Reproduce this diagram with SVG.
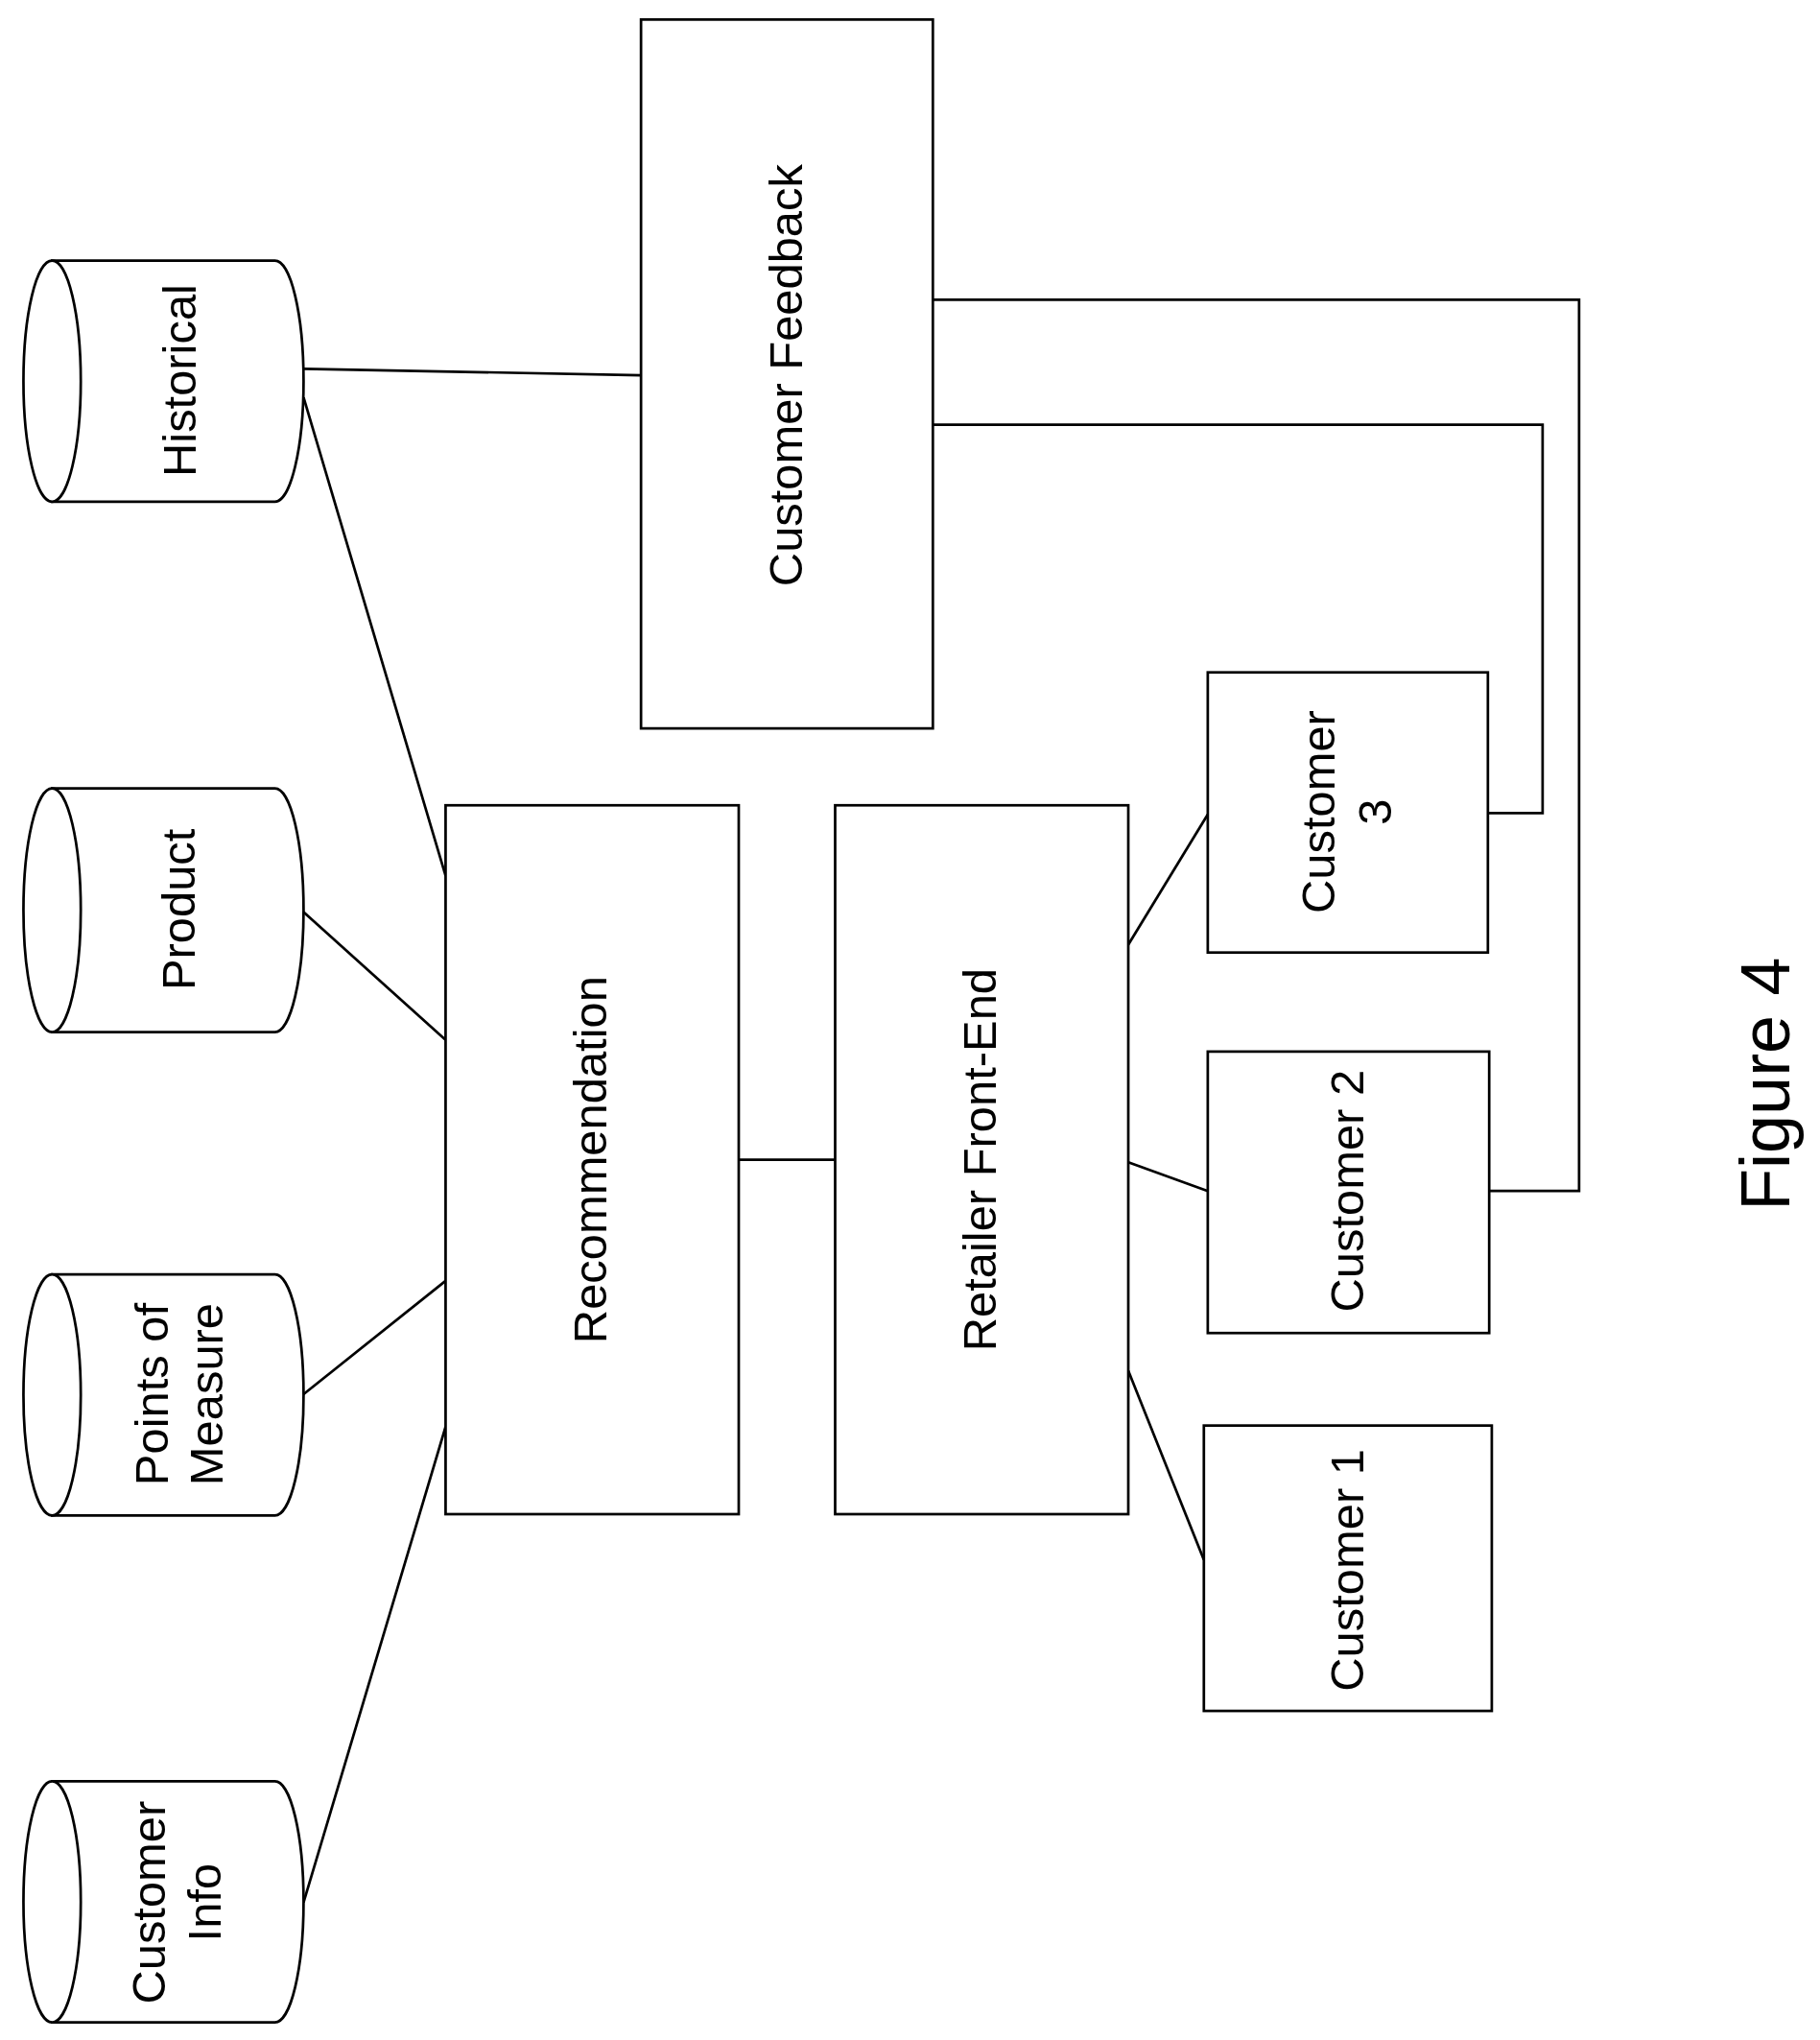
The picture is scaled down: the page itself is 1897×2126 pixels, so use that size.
<svg xmlns="http://www.w3.org/2000/svg" width="1897" height="2126" viewBox="0 0 1897 2126">
<style>
.s{fill:#fff;stroke:#000;stroke-width:2}
.l{fill:none;stroke:#000;stroke-width:2}
text{font-family:"Liberation Sans",Arial,sans-serif;font-size:36px;text-anchor:middle;dominant-baseline:central}
</style>
<rect width="1897" height="2126" fill="#fff"/>
<g transform="scale(1.358)">
<g id="connectors">
<line class="l" x1="233" y1="283" x2="492" y2="288"/>
<line class="l" x1="233" y1="305" x2="342" y2="672"/>
<line class="l" x1="233" y1="700" x2="342" y2="798"/>
<line class="l" x1="233" y1="1070" x2="342" y2="983"/>
<line class="l" x1="233" y1="1460" x2="342" y2="1095"/>
<line class="l" x1="567" y1="890" x2="641" y2="890"/>
<line class="l" x1="866" y1="725" x2="927" y2="625"/>
<line class="l" x1="866" y1="892" x2="927" y2="914"/>
<line class="l" x1="866" y1="1052" x2="924" y2="1197"/>
<polyline class="l" points="1142,624 1184,624 1184,326 716,326"/>
<polyline class="l" points="1143,914 1212,914 1212,230 716,230"/>
</g>
<g id="historical"><path class="s" d="M40,200 L211,200 A22,92.5 0 0 1 211,385 L40,385 Z"/><ellipse class="s" cx="40" cy="292.5" rx="22" ry="92.5"/><text transform="translate(138,292) rotate(-90)">Historical</text></g>
<g id="product"><path class="s" d="M40,605 L211,605 A22,93.5 0 0 1 211,792 L40,792 Z"/><ellipse class="s" cx="40" cy="698.5" rx="22" ry="93.5"/><text transform="translate(137,698) rotate(-90)">Product</text></g>
<g id="points"><path class="s" d="M40,978 L211,978 A22,92.5 0 0 1 211,1163 L40,1163 Z"/><ellipse class="s" cx="40" cy="1070.5" rx="22" ry="92.5"/><text transform="translate(116,1070) rotate(-90)">Points of</text><text transform="translate(158,1070) rotate(-90)">Measure</text></g>
<g id="custinfo"><path class="s" d="M40,1367 L211,1367 A22,92.5 0 0 1 211,1552 L40,1552 Z"/><ellipse class="s" cx="40" cy="1459.5" rx="22" ry="92.5"/><text transform="translate(114,1460) rotate(-90)">Customer</text><text transform="translate(157,1460) rotate(-90)">Info</text></g>
<g id="feedback"><rect class="s" x="492" y="15" width="224" height="544"/><text transform="translate(603,288) rotate(-90)">Customer Feedback</text></g>
<g id="recommendation"><rect class="s" x="342" y="618" width="225" height="544"/><text transform="translate(453,890) rotate(-90)">Recommendation</text></g>
<g id="frontend"><rect class="s" x="641" y="618" width="225" height="544"/><text transform="translate(752,890) rotate(-90)">Retailer Front-End</text></g>
<g id="customer3"><rect class="s" x="927" y="516" width="215" height="215"/><text transform="translate(1012,623) rotate(-90)">Customer</text><text transform="translate(1055,623) rotate(-90)">3</text></g>
<g id="customer2"><rect class="s" x="927" y="807" width="216" height="216"/><text transform="translate(1034,914) rotate(-90)">Customer 2</text></g>
<g id="customer1"><rect class="s" x="924" y="1094" width="221" height="219"/><text transform="translate(1034,1205) rotate(-90)">Customer 1</text></g>
<text transform="translate(1355,832) rotate(-90)" style="font-size:53px">Figure 4</text>
</g>
</svg>
